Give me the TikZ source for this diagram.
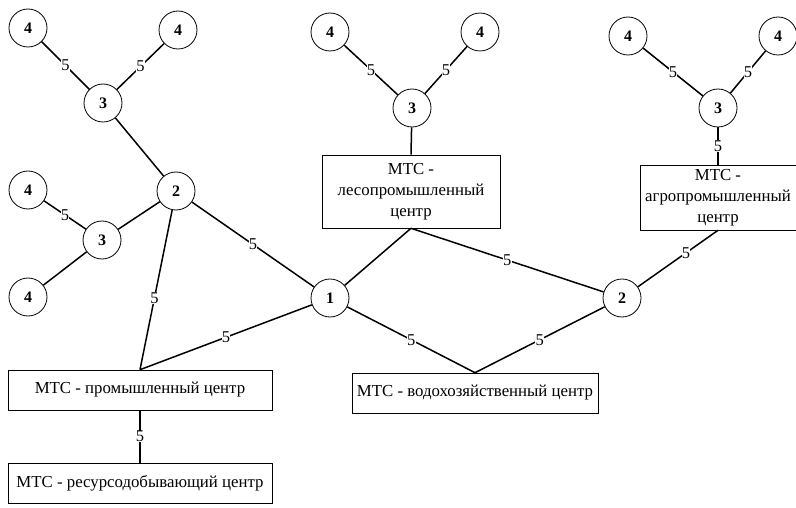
\documentclass[tikz,border=0pt]{standalone}
\usepackage{fontspec}
\setmainfont{Liberation Serif}
\begin{document}
\begin{tikzpicture}[x=1pt,y=-1pt,
  circ/.style={draw,circle,line width=0.8pt,minimum size=38pt,inner sep=0pt,font=\fontsize{16}{16}\selectfont\bfseries},
  box/.style={draw,rectangle,line width=0.6pt,inner sep=2pt,align=center,font=\fontsize{16.8}{21}\selectfont},
  conn/.style={line width=1.5pt},
  lbl/.style={fill=white,inner sep=0.3pt,font=\fontsize{16.5}{16.5}\selectfont}]
\useasboundingbox (0,0) rectangle (796,508);
% left group
\node[circ] (a4a) at (28,28) {4};
\node[circ] (a4b) at (178,30) {4};
\node[circ] (a3) at (103,103) {3};
\node[circ] (a2) at (176,191) {2};
\node[circ] (b4a) at (28,190) {4};
\node[circ] (b3) at (102,240) {3};
\node[circ] (b4b) at (28,297) {4};
% middle group
\node[circ] (m4a) at (330,32) {4};
\node[circ] (m4b) at (480,32) {4};
\node[circ] (m3) at (412,108) {3};
% right group
\node[circ] (r4a) at (628,36) {4};
\node[circ] (r4b) at (778,36) {4};
\node[circ] (r3) at (718,108) {3};
% hubs
\node[circ] (n1) at (330,298) {1};
\node[circ] (n2) at (622,298) {2};
% boxes
\node[box,minimum width=178pt,minimum height=73pt] (les) at (411,191.5) {МТС -\\лесопромышленный\\центр};
\node[box,minimum width=156pt,minimum height=65pt] (agro) at (718,197.5) {МТС -\\агропромышленный\\центр};
\node[box,minimum width=264pt,minimum height=40pt] (prom) at (140,390) {МТС - промышленный центр};
\node[box,minimum width=264pt,minimum height=40pt] (res) at (140,483) {МТС - ресурсодобывающий центр};
\node[box,minimum width=246pt,minimum height=40pt] (vodo) at (475,393) {МТС - водохозяйственный центр};
% connectors
\draw[conn] (a4a) -- node[lbl]{5} (a3);
\draw[conn] (a4b) -- node[lbl]{5} (a3);
\draw[conn] (a3) -- (a2);
\draw[conn] (a2) -- (b3);
\draw[conn] (b4a) -- node[lbl]{5} (b3);
\draw[conn] (b3) -- (b4b);
\draw[conn] (a2) -- node[lbl]{5} (n1);
\draw[conn] (a2) -- node[lbl,pos=0.55]{5} (prom.north);
\draw[conn] (n1) -- node[lbl]{5} (prom.north);
\draw[conn] (m4a) -- node[lbl]{5} (m3);
\draw[conn] (m4b) -- node[lbl]{5} (m3);
\draw[conn] (m3) -- (les.north);
\draw[conn] (n1) -- (les.south);
\draw[conn] (les.south) -- node[lbl]{5} (n2);
\draw[conn] (n1) -- node[lbl]{5} (vodo.north);
\draw[conn] (n2) -- node[lbl]{5} (vodo.north);
\draw[conn] (n2) -- node[lbl,pos=0.6]{5} (agro.south);
\draw[conn] (r4a) -- node[lbl]{5} (r3);
\draw[conn] (r4b) -- node[lbl]{5} (r3);
\draw[conn] (r3) -- node[lbl]{5} (agro.north);
\draw[conn] (prom.south) -- node[lbl]{5} (res.north);
\end{tikzpicture}
\end{document}
